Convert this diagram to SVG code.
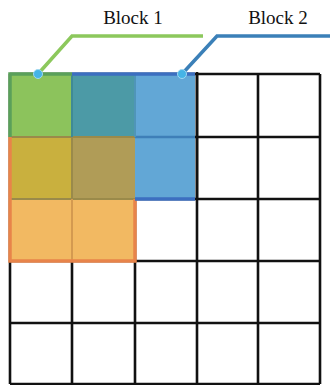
<svg xmlns="http://www.w3.org/2000/svg" width="330" height="385" viewBox="0 0 330 385">
<style>
.grid{fill:none;stroke:#111;stroke-width:2.6}
.lbl{font-family:"Liberation Serif","Times New Roman",serif;font-size:19px;fill:#111;text-anchor:middle}
.dot{fill:#45b4e6;stroke:#9fd8f2;stroke-width:1}
</style>
<rect width="330" height="385" fill="#fff"/>
<g id="grid">
<path class="grid" d="M10 74H320M10 137H320M10 199H320M10 261H320M10 323H320M10 384H320M10 74V384M72 74V384M135 74V384M197 74V384M258 74V384M320 74V384"/>
</g>
<g id="cells">
<rect x="10" y="74" width="62" height="63" fill="#8cc35c"/>
<rect x="72" y="74" width="63" height="63" fill="#4c9aa6"/>
<rect x="135" y="74" width="60" height="63" fill="#62a7d6"/>
<rect x="10" y="137" width="62" height="62" fill="#c9b03e"/>
<rect x="72" y="137" width="63" height="62" fill="#b09c57"/>
<rect x="135" y="137" width="60" height="62" fill="#62a7d6"/>
<rect x="10" y="199" width="62" height="62" fill="#f2b962"/>
<rect x="72" y="199" width="63" height="62" fill="#f2b962"/>
<path d="M72 137V261M10 137H135M10 199H135" fill="none" stroke="#9a8a4a" stroke-width="2"/>
<path d="M72 199V261" fill="none" stroke="#d49a50" stroke-width="2"/>
<path d="M135 137H195" fill="none" stroke="#3e7fb8" stroke-width="2.5"/>
<path d="M72 74V137" fill="none" stroke="#3f8a96" stroke-width="2"/>
<path d="M135 74V137" fill="none" stroke="#4f95b8" stroke-width="2"/>
</g>
<g id="block1">
<path d="M10 137V74H72" fill="none" stroke="#5aa05a" stroke-width="3.5"/>
<path d="M10 137V261H135V199" fill="none" stroke="#e8844a" stroke-width="3.5"/>
</g>
<g id="block2">
<path d="M72 74H195M135 199H195" fill="none" stroke="#3c6fc0" stroke-width="3.5"/>
<path class="grid" d="M197 72V200"/>
</g>
<g id="connectors">
<path d="M38 74L72 36H203" fill="none" stroke="#8cc85c" stroke-width="3.5"/>
<path d="M182 74L217 36H330" fill="none" stroke="#3b80b8" stroke-width="3.5"/>
<circle class="dot" cx="38" cy="74" r="4.5"/>
<circle class="dot" cx="182" cy="74" r="4.5"/>
</g>
<g id="labels">
<text class="lbl" x="133" y="24">Block 1</text>
<text class="lbl" x="278" y="24">Block 2</text>
</g>
</svg>
